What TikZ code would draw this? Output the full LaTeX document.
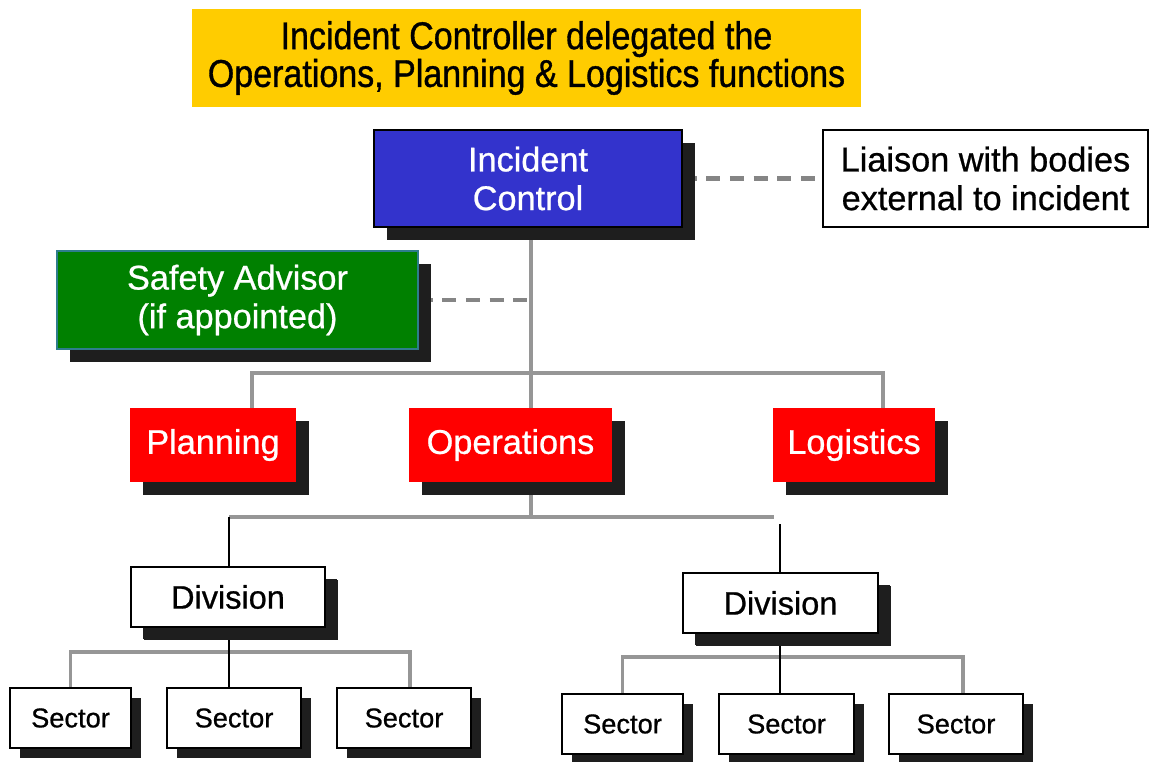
\documentclass[tikz,border=0pt]{standalone}
\usepackage{fontspec}
\setmainfont{Liberation Sans}[FakeBold=0.7]
\newfontfamily\bannerfont{Liberation Sans}[FakeStretch=0.88,FakeBold=0.9]
\usepackage{tikz}
\usetikzlibrary{shadows}
\usetikzlibrary{backgrounds}
\usetikzlibrary{positioning}

\definecolor{banneryellow}{HTML}{FFCC00}
\definecolor{icblue}{HTML}{3333CC}
\definecolor{safegreen}{HTML}{008000}
\definecolor{safeedge}{HTML}{2E7D8C}
\definecolor{funcred}{HTML}{FF0000}
\definecolor{shadowblack}{HTML}{1E1E1E}
\definecolor{linkgray}{HTML}{969696}
\definecolor{dashgray}{HTML}{858585}

\tikzstyle{every node}=[inner sep=0pt,align=center]
\tikzstyle{shbox}=[rectangle,drop shadow={shadow xshift=2.6mm,shadow yshift=-2.6mm,fill=shadowblack,opacity=1}]
\tikzstyle{bigtxt}=[font=\fontsize{19.5}{22}\selectfont]
\tikzstyle{icbox}=[shbox,bigtxt,fill=icblue,draw=black,line width=0.6pt,text=white,minimum width=61.6mm,minimum height=19.4mm]
\tikzstyle{safebox}=[shbox,bigtxt,fill=safegreen,draw=safeedge,line width=0.6pt,text=white,minimum width=72.2mm,minimum height=19.6mm]
\tikzstyle{funcbox}=[shbox,bigtxt,fill=funcred,text=white,minimum height=14.8mm]
\tikzstyle{divbox}=[shbox,draw=black,line width=1pt,fill=white,font=\fontsize{18.5}{22}\selectfont,minimum width=38.8mm,minimum height=12mm,drop shadow={shadow xshift=2.4mm,shadow yshift=-2.4mm,fill=shadowblack,opacity=1}]
\tikzstyle{secbox}=[rectangle,draw=black,line width=1pt,fill=white,font=\fontsize{15.5}{18}\selectfont,minimum height=12mm,drop shadow={shadow xshift=2mm,shadow yshift=-2mm,fill=shadowblack,opacity=1}]
\tikzstyle{graylink}=[draw=linkgray,line width=2pt]
\tikzstyle{blacklink}=[draw=black,line width=1.3pt]
\tikzstyle{dashlink}=[draw=dashgray,line width=2.4pt,dash pattern=on 8pt off 5.5pt]

\begin{document}
\begin{tikzpicture}[x=0.2mm,y=-0.2mm]
\useasboundingbox (0,0) rectangle (1149,762);

% banner
\node[fill=banneryellow,minimum width=133.8mm,minimum height=19.6mm,font=\bannerfont\fontsize{22}{21.5}\selectfont] (banner) at (526.5,58) {Incident Controller delegated the\\Operations, Planning \& Logistics functions};

% top level
\node[icbox] (ic) at (528,178.5) {Incident\\Control};
\node[draw=black,line width=1pt,fill=white,bigtxt,minimum width=65mm,minimum height=19.4mm] (liaison) at (985.5,178.5) {Liaison with bodies\\external to incident};
\node[safebox] (safety) at (237.5,300) {Safety Advisor\\(if appointed)};

% functions
\node[funcbox,minimum width=33.2mm] (plan) at (213,445) {Planning};
\node[funcbox,minimum width=40.6mm] (ops) at (510.5,445) {Operations};
\node[funcbox,minimum width=32.4mm] (logi) at (854,445) {Logistics};

% divisions
\node[divbox] (divl) at (228,597) {Division};
\node[divbox,minimum width=39mm] (divr) at (780.5,603) {Division};

% sectors
\node[secbox,minimum width=24.2mm] (secla) at (70.5,718) {Sector};
\node[secbox,minimum width=26.8mm] (seclb) at (234,718) {Sector};
\node[secbox,minimum width=26.8mm] (seclc) at (404,718) {Sector};
\node[secbox,minimum width=24.2mm] (secra) at (622.5,724) {Sector};
\node[secbox,minimum width=27mm] (secrb) at (786.5,724) {Sector};
\node[secbox,minimum width=26.8mm] (secrc) at (956,724) {Sector};

\coordinate (funcbar) at (531,373);
\coordinate (divbarl) at (229,517);
\coordinate (divbarr) at (774,517);
\coordinate (divtopr) at (780,524);
\coordinate (secbarl) at (229,652);
\coordinate (secbarr) at (780,657);

\begin{scope}[on background layer]
\draw[dashlink] (ic.east) -- (liaison.west);
\draw[dashlink] (safety.east) -- (safety.east -| funcbar);
\draw[graylink] (ic.south -| funcbar) -- (funcbar |- ops.north);
\draw[graylink] ([xshift=7.8mm]plan.north) |- (funcbar) -| ([xshift=5.8mm]logi.north);
\draw[graylink] (funcbar |- ops.south) -- (funcbar |- divbarl);
\draw[graylink] (divbarl) -- (divbarr);
\draw[blacklink] (divbarl) -- (divbarl |- divl.north);
\draw[blacklink] (divtopr) -- (divtopr |- divr.north);
% sector bars
\draw[graylink] (secla.north) |- (secbarl) -| ([xshift=1.2mm]seclc.north);
\draw[blacklink] (divl.south -| secbarl) -- (seclb.north -| secbarl);
\draw[graylink] (secra.north) |- (secbarr) -| ([xshift=1.4mm]secrc.north);
\draw[blacklink] (divr.south -| secbarr) -- (secrb.north -| secbarr);
\end{scope}
\end{tikzpicture}
\end{document}
